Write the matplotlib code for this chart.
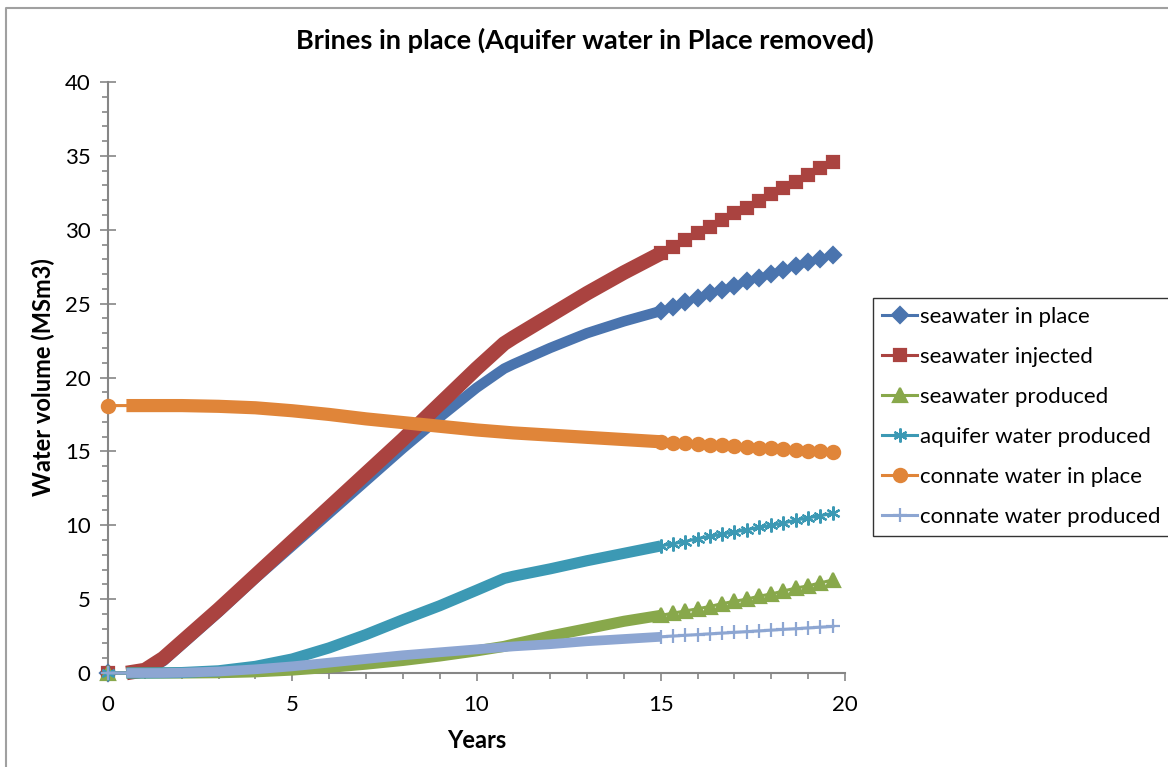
import numpy as np
import matplotlib.pyplot as plt
from matplotlib.lines import Line2D

plt.rcParams['font.family'] = ['Lato', 'DejaVu Sans']

years = [0, 0.5, 1, 1.5, 2, 3, 4, 5, 6, 7, 8, 9, 10, 10.75, 11, 12, 13, 14, 15,
         15.33, 15.67, 16, 16.33, 16.67, 17, 17.33, 17.67, 18, 18.33, 18.67, 19, 19.33, 19.67]

sw_in_place = [0, 0, 0.1, 0.8, 1.9, 4.1, 6.4, 8.6, 10.8, 13.0, 15.2, 17.3, 19.3, 20.6, 20.9, 22.0, 23.0, 23.8, 24.5,
               24.8, 25.1, 25.4, 25.7, 25.95, 26.2, 26.5, 26.75, 27.0, 27.3, 27.55, 27.8, 28.05, 28.3]
sw_injected = [0, 0, 0.2, 1.0, 2.1, 4.3, 6.6, 8.9, 11.2, 13.5, 15.8, 18.2, 20.6, 22.3, 22.7, 24.2, 25.7, 27.1, 28.4,
               28.85, 29.3, 29.75, 30.2, 30.65, 31.1, 31.5, 31.95, 32.4, 32.8, 33.25, 33.7, 34.15, 34.6]
sw_produced = [0, 0, 0, 0, 0, 0.02, 0.08, 0.2, 0.38, 0.6, 0.85, 1.15, 1.5, 1.8, 1.95, 2.5, 3.0, 3.5, 3.9,
               4.05, 4.2, 4.35, 4.5, 4.7, 4.85, 5.0, 5.2, 5.35, 5.55, 5.75, 5.9, 6.1, 6.3]
aq_produced = [0, 0, 0, 0.01, 0.03, 0.15, 0.45, 0.95, 1.7, 2.6, 3.6, 4.55, 5.6, 6.4, 6.55, 7.05, 7.6, 8.1, 8.6,
               8.75, 8.9, 9.1, 9.25, 9.4, 9.55, 9.7, 9.85, 10.0, 10.15, 10.35, 10.5, 10.65, 10.8]
cn_in_place = [18.1, 18.1, 18.1, 18.1, 18.1, 18.05, 17.95, 17.75, 17.5, 17.2, 16.95, 16.7, 16.45, 16.3, 16.25, 16.1, 15.95, 15.8, 15.65,
               15.6, 15.55, 15.5, 15.45, 15.4, 15.35, 15.3, 15.25, 15.2, 15.15, 15.1, 15.05, 15.0, 14.95]
cn_produced = [0, 0, 0, 0, 0.02, 0.1, 0.25, 0.45, 0.7, 0.95, 1.2, 1.4, 1.6, 1.75, 1.8, 1.95, 2.15, 2.3, 2.45,
               2.5, 2.55, 2.6, 2.65, 2.7, 2.75, 2.8, 2.85, 2.9, 2.95, 3.0, 3.05, 3.1, 3.15]

labels = ['seawater in place', 'seawater injected', 'seawater produced',
          'aquifer water produced', 'connate water in place', 'connate water produced']
series = [sw_in_place, sw_injected, sw_produced, aq_produced, cn_in_place, cn_produced]
colors = ['#4A74AE', '#AA4340', '#88A84B', '#3C99B4', '#E08539', '#8DA6D2']
markers = ['D', 's', '^', (6, 2, 0), 'o', '+']
msizes = [8.5, 9, 10, 10, 9.5, 10]
bands = [7.5, 10.5, 8, 8, 9.5, 7]

i15 = years.index(15)
mark_idx = [0] + list(range(i15, len(years)))

fig = plt.figure(figsize=(11.68, 7.67), dpi=100)
ax = fig.add_axes([108/1168, 1-673/767, 737/1168, 591/767])

handles = []
for k in range(len(series)):
    y = series[k]
    # dense part of the record looks like a thick band of overlapping markers
    ax.plot(years[1:i15+1], y[1:i15+1], color=colors[k], lw=bands[k],
            solid_capstyle='butt', solid_joinstyle='round', zorder=2+k, clip_on=False)
    ln, = ax.plot(years, y, color=colors[k], lw=2.2, marker=markers[k], ms=msizes[k],
                  mew=1.6, markevery=mark_idx, zorder=2+k, label=labels[k], clip_on=False)
    handles.append(ln)

ax.set_xlim(0, 20)
ax.set_ylim(0, 40)
ax.set_xticks([0, 5, 10, 15, 20])
ax.set_xticks(np.arange(0, 21, 1), minor=True)
ax.set_yticks(np.arange(0, 41, 5))
ax.set_yticks(np.arange(0, 41, 1), minor=True)
for s in ['top', 'right']:
    ax.spines[s].set_visible(False)
for s in ['left', 'bottom']:
    ax.spines[s].set_color('#868686')
    ax.spines[s].set_linewidth(1.5)
    ax.spines[s].set_zorder(1)
ax.tick_params(axis='x', which='major', direction='out', length=6, width=1.2, color='#868686', labelsize=16, pad=10)
ax.tick_params(axis='x', which='minor', direction='out', length=4, width=1.2, color='#868686')
ax.tick_params(axis='y', which='major', direction='inout', length=11, width=1.2, color='#868686', labelsize=16, pad=7)
ax.tick_params(axis='y', which='minor', direction='out', length=4, width=1.2, color='#868686')

ax.set_xlabel('Years', fontsize=17, fontweight='bold', labelpad=10)
ax.set_ylabel('Water volume (MSm3)', fontsize=17, fontweight='bold', labelpad=7)
fig.text(585/1168, 1-40/767, 'Brines in place (Aquifer water in Place removed)',
         ha='center', va='center', fontsize=19.5, fontweight='bold')

leg = fig.legend(handles=handles, loc='upper left', bbox_to_anchor=(873/1168, 1-298/767),
                 fontsize=16, frameon=True, fancybox=False, handlelength=1.6,
                 handletextpad=0.1, labelspacing=0.9, borderpad=0.4, borderaxespad=0)
leg.get_frame().set_edgecolor('black')
leg.get_frame().set_linewidth(1.0)

fig.add_artist(Line2D([6/1168, 6/1168, 1], [0, 1-8/767, 1-8/767], color='#A0A0A0', lw=1.5))

fig.savefig('out.png', dpi=100)
